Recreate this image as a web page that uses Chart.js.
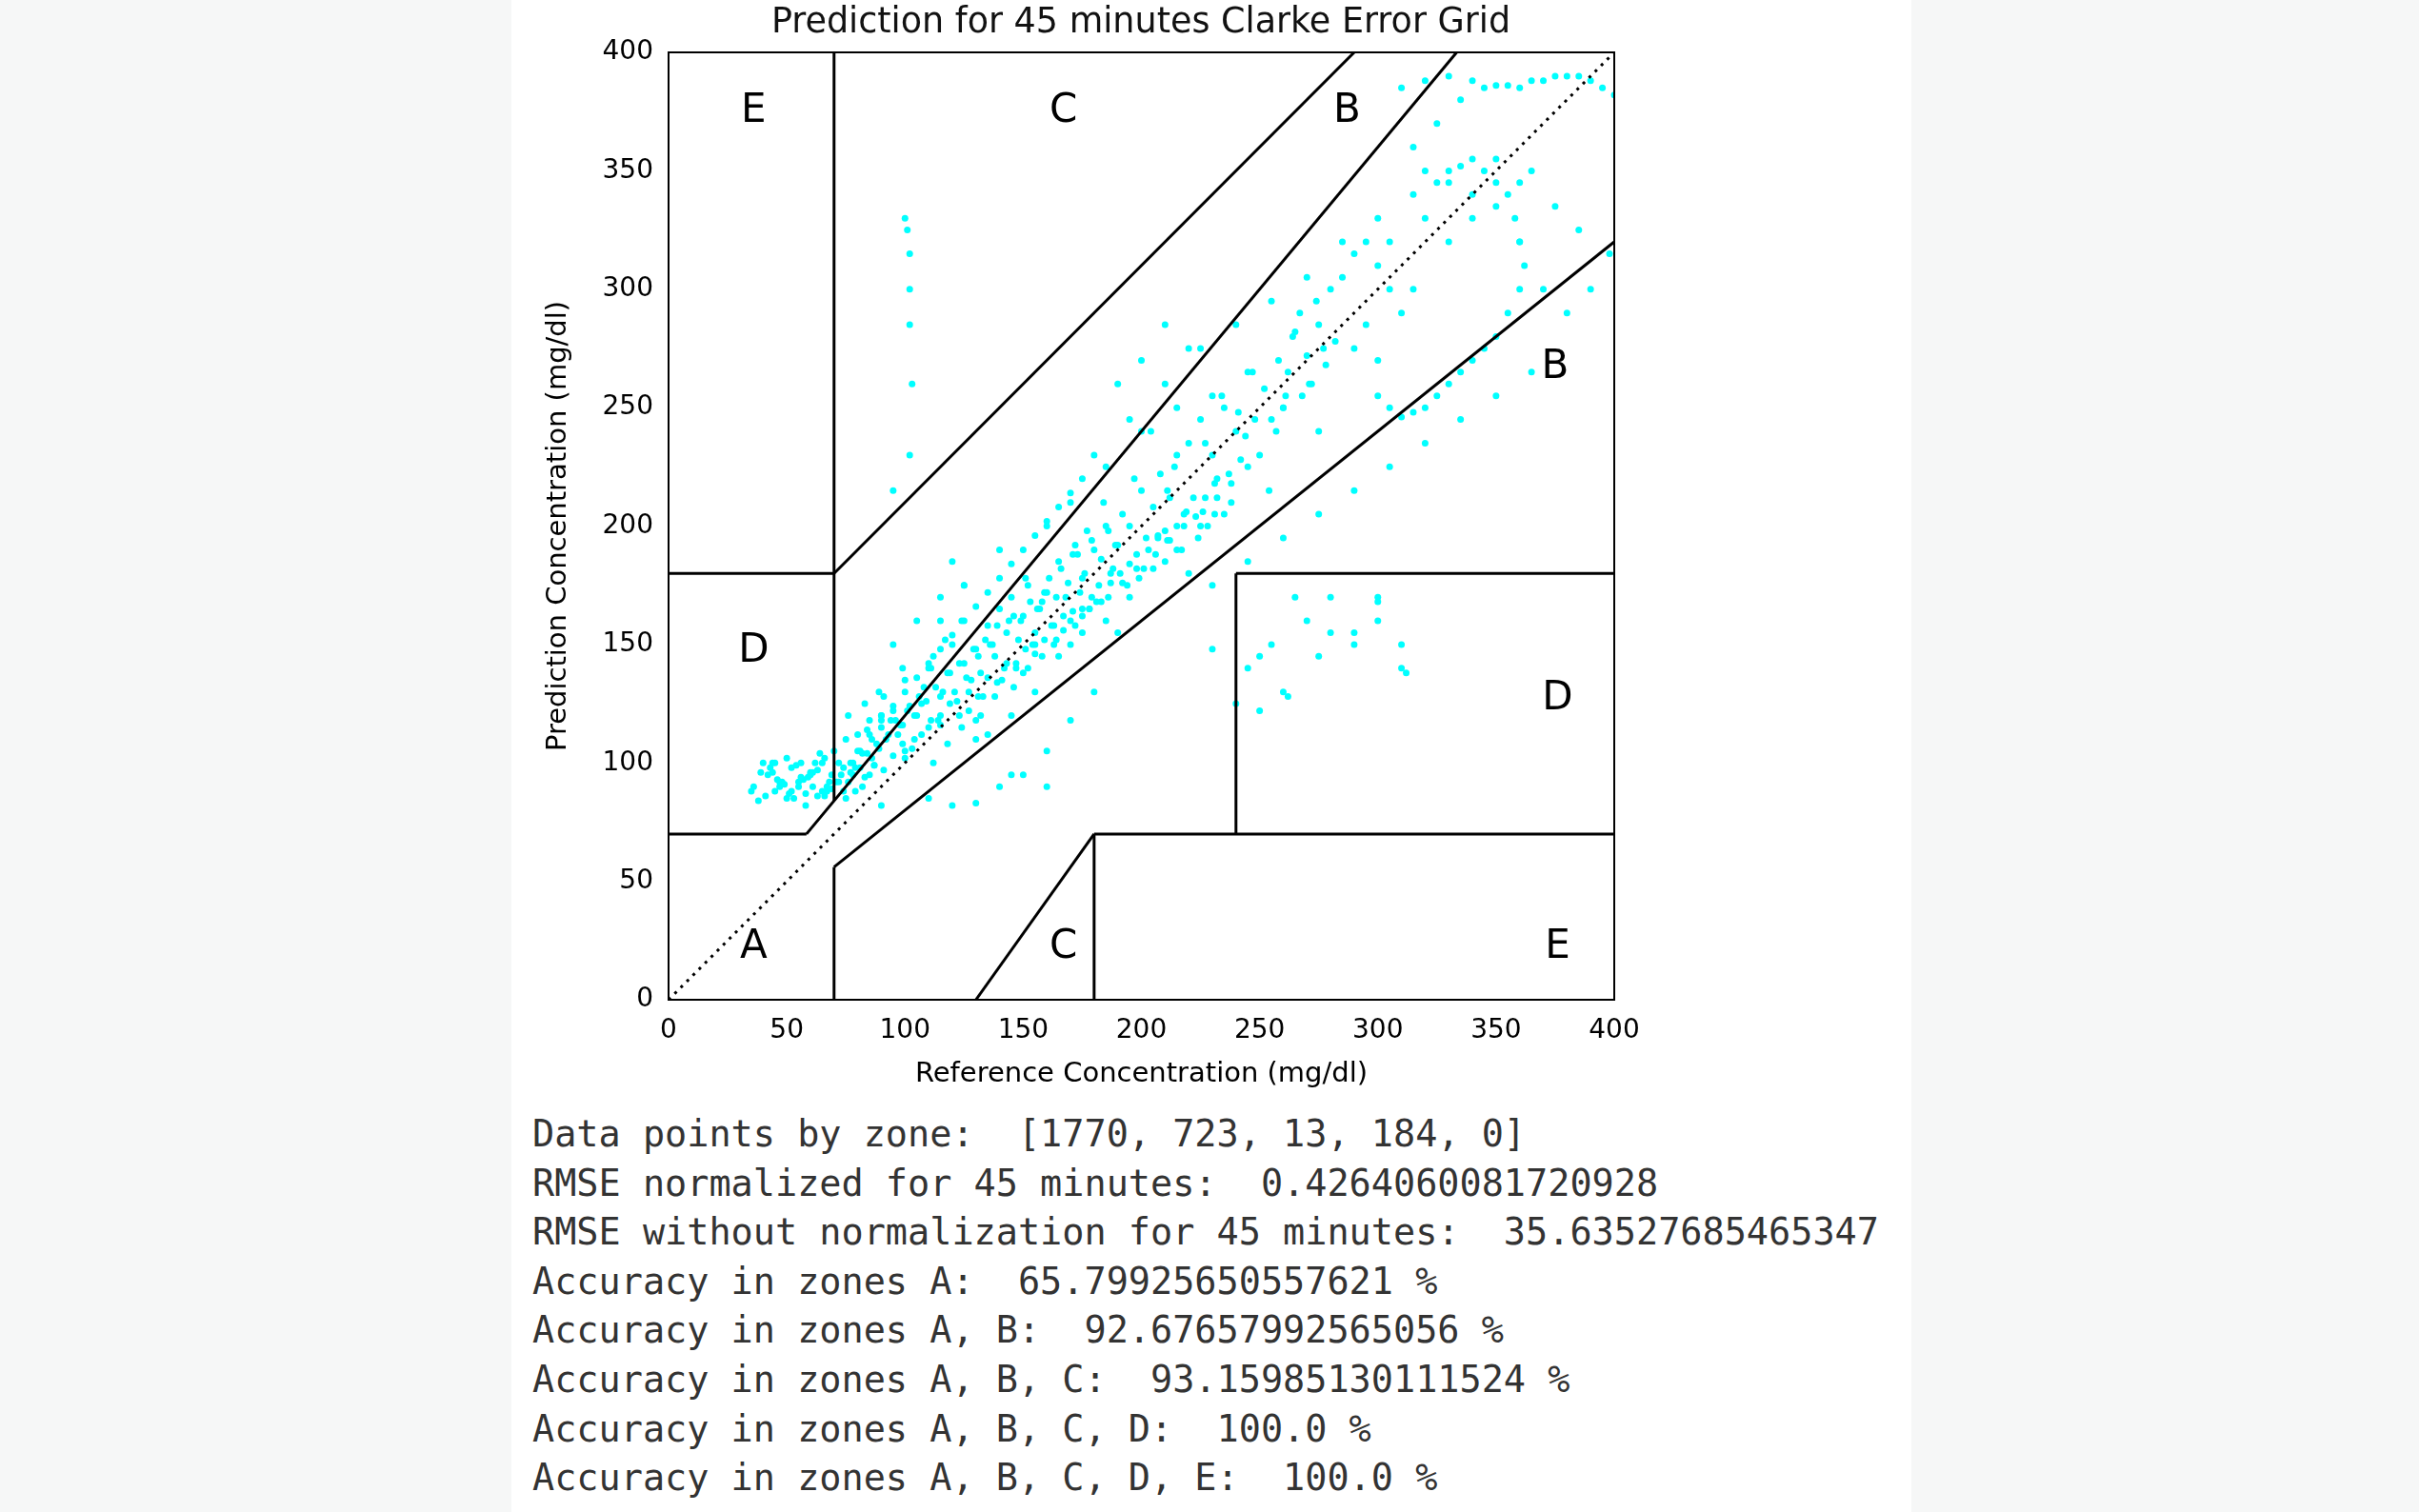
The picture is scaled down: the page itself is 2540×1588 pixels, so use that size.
<!DOCTYPE html>
<html><head><meta charset="utf-8">
<script src="https://cdn.jsdelivr.net/npm/chart.js@4/dist/chart.umd.min.js"></script>
<style>
body{margin:0;width:2540px;height:1588px;background:#f6f7f7;position:relative;overflow:hidden;font-family:"DejaVu Sans",sans-serif}
#panel{position:absolute;left:537px;top:0;width:1470px;height:1588px;background:#fff}
#wrap{position:absolute;left:0;top:0;width:2540px;height:1160px}
#title{position:absolute;left:701px;width:994px;top:0px;text-align:center;font-size:36.5px;color:#111}
#out{position:absolute;left:559px;top:1165px;font-family:"DejaVu Sans Mono",monospace;font-size:38.5px;line-height:51.6px;color:#333;white-space:pre}
</style></head><body>
<div id="panel"></div>
<div id="wrap"><canvas id="c" width="2540" height="1160"></canvas></div>
<div id="title">Prediction for 45 minutes Clarke Error Grid</div>
<div id="out">Data points by zone:  [1770, 723, 13, 184, 0]
RMSE normalized for 45 minutes:  0.4264060081720928
RMSE without normalization for 45 minutes:  35.63527685465347
Accuracy in zones A:  65.79925650557621 %
Accuracy in zones A, B:  92.67657992565056 %
Accuracy in zones A, B, C:  93.15985130111524 %
Accuracy in zones A, B, C, D:  100.0 %
Accuracy in zones A, B, C, D, E:  100.0 %</div>
<script>
const titleText="Prediction for 45 minutes Clarke Error Grid";
const xLabel="Reference Concentration (mg/dl)";
const yLabel="Prediction Concentration (mg/dl)";
const ticks=[0,50,100,150,200,250,300,350,400];
// reference glucose values
const refX=[40,42,45,48,50,52,55,58,60,62,65,68,38,44,47,53,57,63,66,69,41,49,54,59,64,67,36,46,51,56,
61,70,72,75,78,80,82,85,88,90,72,76,79,83,86,89,92,95,98,100,74,77,81,84,87,91,94,97,99,102,
105,108,110,112,115,118,120,122,125,128,104,107,111,114,117,121,124,127,130,132,135,138,140,142,145,148,150,152,155,158,
133,137,141,144,147,151,154,157,160,162,165,168,170,172,175,178,180,182,185,188,163,167,171,174,177,181,184,187,190,192,
195,198,200,202,205,208,210,212,215,218,194,197,201,204,207,211,214,217,220,222,225,228,230,232,235,238,240,242,245,248,
224,227,231,234,237,241,244,247,250,252,255,258,260,262,265,268,270,272,275,278,254,257,261,264,267,271,274,277,280,282,
100,101,102,102,102,103,102,95,35,45,90,110,130,150,170,160,140,120,115,125,
135,145,155,165,175,185,195,205,215,225,235,200,210,220,190,180,170,160,150,140,
130,120,110,100,90,85,95,105,115,125,250,260,270,280,290,300,310,240,230,220,
285,290,295,300,305,295,290,300,310,305,315,320,325,330,335,340,345,350,355,358,
360,362,360,355,350,345,340,335,330,325,320,315,310,305,300,310,320,330,340,350,
360,370,380,390,395,400,385,375,365,355,345,335,325,315,320,330,340,350,360,370,
380,390,398,385,375,365,360,350,340,330,245,250,262,275,290,300,310,312,255,280,
265,300,170,185,200,215,230,245,260,275,180,195,210,225,240,255,270,285,300,315,
230,245,260,275,290,305,320,335,350,365,145,160,130,115,100,90,155,175,190,210,
73,76,78,81,84,86,89,93,96,99,101,104,106,109,113,116,119,123,126,129,
131,134,136,139,143,146,149,153,156,159,161,164,166,169,173,176,179,183,186,189,
75,79,83,87,91,95,99,103,107,111,115,119,123,127,131,135,139,143,147,151,
155,159,163,167,171,175,179,183,187,191,195,199,203,207,211,215,219,223,227,231,
80,85,90,95,100,105,110,115,120,125,130,135,140,145,150,155,160,165,170,175,
112,118,124,132,138,146,152,158,164,172,178,186,192,198,206,212,218,226,232,238,
43,47,52,56,61,66,39,44,50,55,60,65,69,58,63,67,71,74,77,82];
const predY=[100,95,88,92,85,98,90,87,95,100,88,92,84,96,90,85,93,97,102,89,86,91,99,94,104,88,90,93,87,100,
96,105,100,110,95,112,104,118,108,115,92,120,98,125,102,130,110,122,116,135,88,96,105,114,99,128,118,112,140,124,
120,132,115,145,128,138,150,126,142,135,110,125,140,118,152,130,160,122,148,138,158,145,165,140,170,152,162,175,155,168,
128,150,135,160,142,178,150,165,172,158,185,170,160,192,178,165,190,175,200,182,150,162,188,172,198,168,210,180,192,205,
200,188,215,195,208,222,198,212,230,205,175,220,182,240,195,215,225,190,235,212,245,200,230,220,250,210,240,228,225,245,
195,235,205,255,222,248,238,265,230,258,245,270,250,265,282,255,272,260,285,268,215,240,255,280,290,260,295,275,300,278,
330,325,315,300,285,260,230,215,88,100,120,140,118,138,150,200,190,185,160,175,
112,120,130,145,155,160,170,182,190,200,205,270,285,275,260,130,118,105,95,90,
83,82,85,102,82,95,150,160,170,175,145,130,160,170,150,160,150,125,148,180,
305,315,320,310,300,285,275,270,290,320,300,330,345,350,352,355,350,345,340,330,
320,310,300,290,280,275,270,265,260,255,250,248,246,250,255,385,388,390,388,386,
385,388,390,388,385,382,390,390,388,386,385,380,370,360,350,345,340,335,320,300,
290,300,315,325,335,350,345,355,330,320,140,122,128,145,155,168,140,138,150,155,
170,170,210,225,240,250,255,265,250,240,230,245,260,275,285,295,305,320,330,340,
175,185,195,205,215,225,235,245,255,265,95,90,110,120,105,120,150,165,155,185,
95,92,100,98,104,110,106,112,118,116,122,120,128,126,132,130,138,142,136,148,
145,152,150,158,155,162,160,168,165,172,178,170,182,176,188,180,194,186,198,192,
85,88,94,99,97,103,108,106,112,118,116,125,120,130,128,136,134,142,140,148,
146,152,158,156,164,162,170,168,176,180,184,178,190,196,194,200,206,204,212,218,
105,112,118,124,130,136,142,148,154,160,166,172,178,184,190,196,202,208,214,220,
100,108,115,120,128,132,140,145,152,158,165,170,176,182,188,194,200,206,212,218,
98,92,88,94,90,86,96,100,102,92,96,100,95,82,86,90,92,98,100,90];
const ln=(a,b,dash)=>({type:'line',data:[{x:a[0],y:a[1]},{x:b[0],y:b[1]}],borderColor:'#000',borderWidth:3,borderDash:dash?[3,6]:[],pointRadius:0,showLine:true,order:0});
const zoneLines=[[[0,0],[400,400],1],[[0,70],[175/3,70]],[[175/3,70],[400/1.2,400]],[[70,84],[70,400]],[[0,180],[70,180]],[[70,180],[290,400]],[[70,0],[70,56]],[[70,56],[400,320]],[[180,0],[180,70]],[[180,70],[400,70]],[[240,70],[240,180]],[[240,180],[400,180]],[[130,0],[180,70]]];
const zoneLabels=[["A",36,22],["B",375,267],["B",287,375],["C",167,375],["C",167,22],["D",36,147],["D",376,127],["E",36,375],["E",376,22]];
const pts=refX.map((x,i)=>({x,y:predY[i]}));
const labelPlugin={id:'lbl',afterDatasetsDraw(ch){const c=ch.ctx,xs=ch.scales.x,ys=ch.scales.y;c.save();c.font='42px "DejaVu Sans"';c.fillStyle='#000';c.textAlign='center';c.textBaseline='middle';zoneLabels.forEach(([t,x,y])=>c.fillText(t,xs.getPixelForValue(x),ys.getPixelForValue(y)));c.restore();}};
new Chart(document.getElementById('c'),{type:'scatter',
data:{datasets:[{data:pts,backgroundColor:'#00ffff',borderWidth:0,pointRadius:3.5,order:1},...zoneLines.map(l=>ln(l[0],l[1],l[2]))]},
options:{responsive:false,animation:false,devicePixelRatio:1,
layout:{padding:{left:565,right:845,top:55,bottom:10}},
plugins:{legend:{display:false},tooltip:{enabled:false}},
scales:{
x:{type:'linear',min:0,max:400,afterBuildTicks:s=>{s.ticks=ticks.map(v=>({value:v}));},afterFit:s=>{s.height=100;},grid:{display:false},border:{color:'#000',width:2},
ticks:{color:'#000',font:{size:28,family:'DejaVu Sans'},padding:8},title:{display:true,text:xLabel,color:'#000',font:{size:29,family:'DejaVu Sans'},padding:{top:4}}},
y:{type:'linear',min:0,max:400,afterBuildTicks:s=>{s.ticks=ticks.map(v=>({value:v}));},afterFit:s=>{s.width=137;},grid:{display:false},border:{color:'#000',width:2},
ticks:{color:'#000',font:{size:28,family:'DejaVu Sans'},padding:8},title:{display:true,text:yLabel,color:'#000',font:{size:29,family:'DejaVu Sans'},padding:{bottom:4}}}}},
plugins:[labelPlugin,{id:'box',afterDraw(ch){const a=ch.chartArea,c=ch.ctx;c.save();c.strokeStyle='#000';c.lineWidth=2;c.strokeRect(a.left,a.top,a.right-a.left,a.bottom-a.top);c.restore();}}]});
</script></body></html>
